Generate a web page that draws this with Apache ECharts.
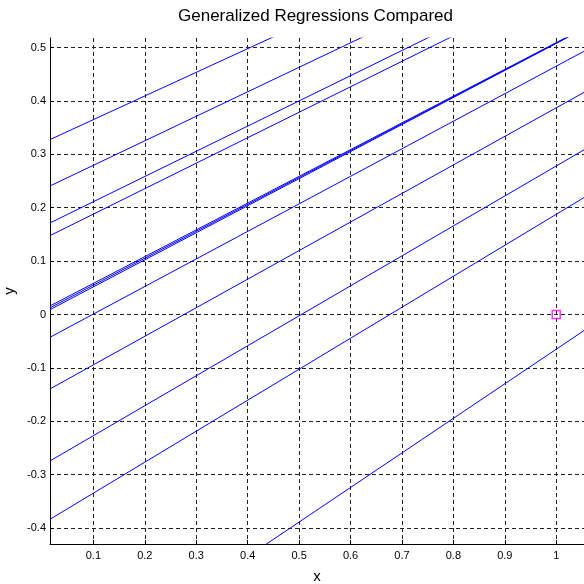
<!DOCTYPE html>
<html>
<head>
<meta charset="utf-8">
<script src="https://cdn.jsdelivr.net/npm/echarts@6/dist/echarts.min.js"></script>
<style>
html,body{margin:0;padding:0;background:#fff;}
#chart{width:584px;height:584px;}
</style>
</head>
<body>
<div id="chart"></div>
<script>
const titleText = 'Generalized Regressions Compared';
const xName = 'x';
const yName = 'y';
const xMin = 0.0156, xMax = 1.054;
const yMin = -0.43, yMax = 0.518;
const xTicks = [0.1, 0.2, 0.3, 0.4, 0.5, 0.6, 0.7, 0.8, 0.9, 1];
const yTicks = [-0.4, -0.3, -0.2, -0.1, 0, 0.1, 0.2, 0.3, 0.4, 0.5];

// each regression line: y at the left edge (x = xMin) and at the right edge (x = xMax)
const lineYStart = [0.3277, 0.2408, 0.1715, 0.1478, 0.009, 0.0125, 0.016, -0.0427, -0.1395, -0.2744, -0.3837, -0.7026];
const lineYEnd   = [0.7877, 0.7174, 0.6617, 0.6432, 0.5352, 0.5358, 0.5364, 0.4931, 0.4161, 0.3085, 0.2190, -0.0301];

// the single marked point
const markerX = [1];
const markerY = [0];

const chart = echarts.init(document.getElementById('chart'), null, {renderer: 'canvas'});

const series = lineYStart.map((ys, i) => ({
  type: 'line',
  data: [[xMin, ys], [xMax, lineYEnd[i]]],
  symbol: 'none',
  clip: true,
  silent: true,
  lineStyle: {color: '#0000ff', width: 1},
  z: 3
}));
series.push({
  type: 'scatter',
  data: markerX.map((x, i) => [x, markerY[i]]),
  symbol: 'rect',
  symbolSize: 8,
  itemStyle: {color: 'rgba(0,0,0,0)', borderColor: '#ff00ff', borderWidth: 1.5},
  z: 5
});

const gridLine = {show: true, lineStyle: {color: '#222', width: 1, type: [4, 3]}};

chart.setOption({
  animation: false,
  backgroundColor: '#fff',
  title: {
    text: titleText,
    left: 173,
    top: 3,
    textStyle: {fontFamily: 'Liberation Sans', fontSize: 17, fontWeight: 'normal', color: '#000'}
  },
  grid: {left: 50, right: 0, top: 38, bottom: 40, containLabel: false, outerBoundsMode: 'none'},
  xAxis: {
    type: 'value',
    min: xMin, max: xMax,
    name: xName,
    nameLocation: 'middle',
    nameGap: 25,
    nameTextStyle: {fontFamily: 'Liberation Sans', fontSize: 15, color: '#000'},
    axisLine: {show: true, onZero: false, lineStyle: {color: '#000', width: 1}},
    axisTick: {show: true, inside: true, length: 4, customValues: xTicks, lineStyle: {color: '#000'}},
    axisLabel: {customValues: xTicks, margin: 6, fontFamily: 'Liberation Sans', fontSize: 11, color: '#000'},
    splitLine: gridLine
  },
  yAxis: {
    type: 'value',
    min: yMin, max: yMax,
    name: yName,
    nameLocation: 'middle',
    nameRotate: 90,
    nameGap: 33,
    nameMoveOverlap: false,
    nameTextStyle: {fontFamily: 'Liberation Sans', fontSize: 15, color: '#000'},
    axisLine: {show: true, onZero: false, lineStyle: {color: '#000', width: 1}},
    axisTick: {show: true, inside: true, length: 4, customValues: yTicks, lineStyle: {color: '#000'}},
    axisLabel: {customValues: yTicks, margin: 4, fontFamily: 'Liberation Sans', fontSize: 11, color: '#000'},
    splitLine: gridLine
  },
  series: series
});
</script>
</body>
</html>
